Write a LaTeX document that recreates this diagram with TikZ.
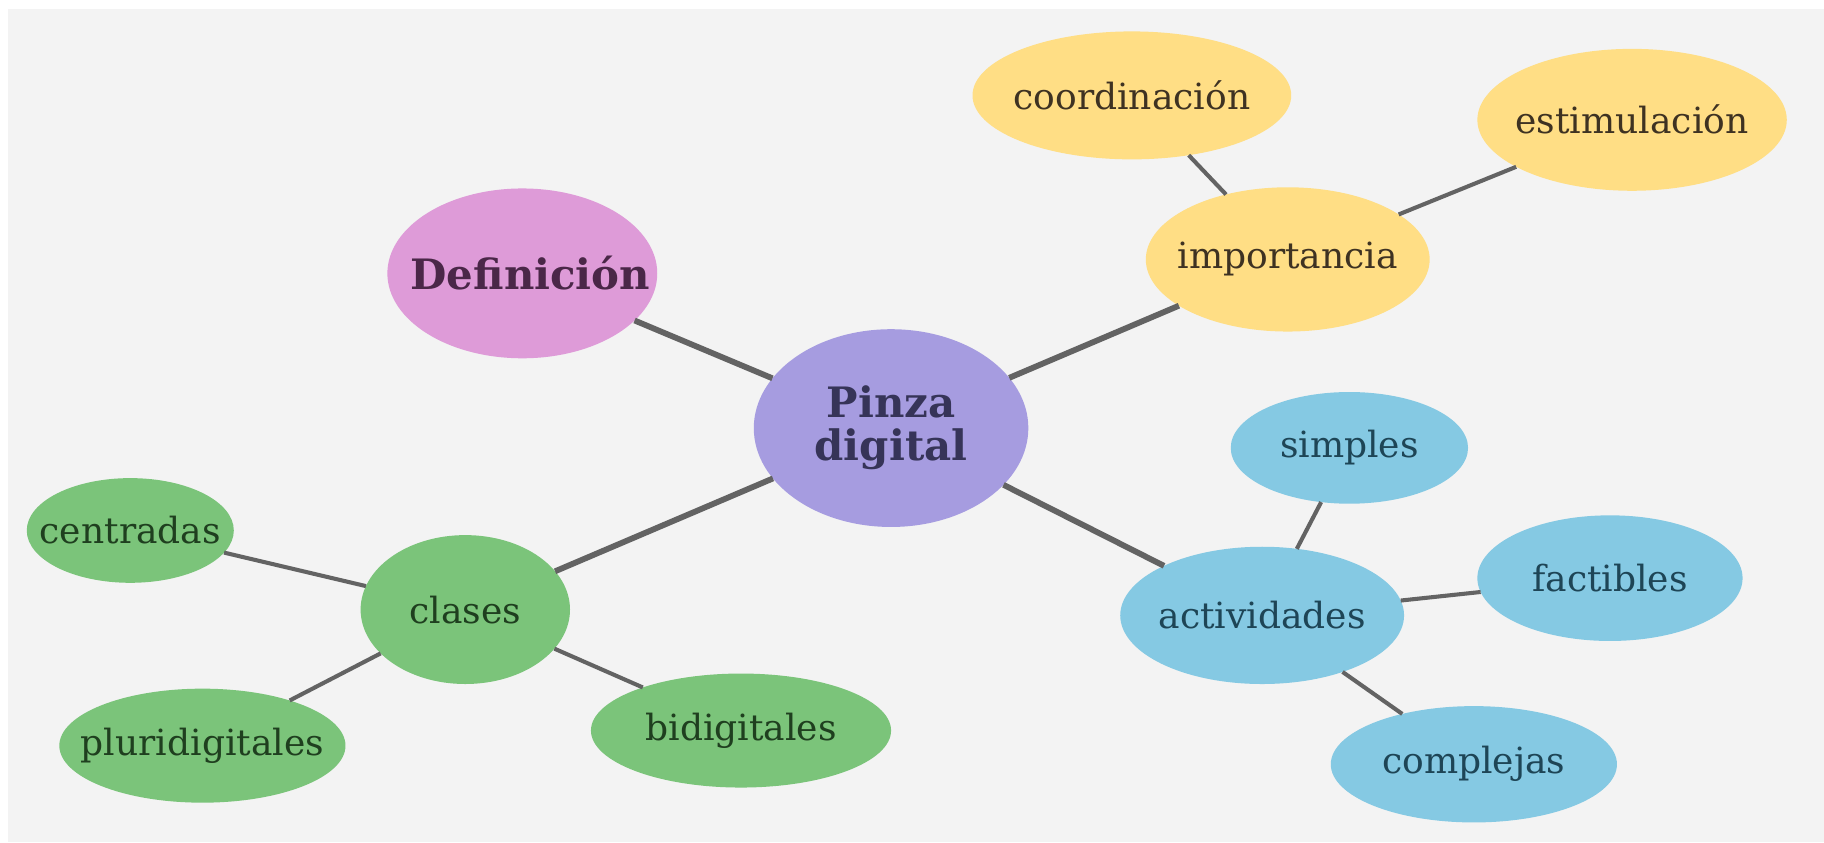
\documentclass[tikz,border=0pt]{standalone}
\usepackage{fontspec}
\setmainfont{DejaVu Serif}
\usetikzlibrary{shapes.geometric}
\definecolor{paper}{HTML}{F3F3F3}
\definecolor{linegray}{HTML}{636363}
\definecolor{hubfill}{HTML}{A69CE0}
\definecolor{hubtext}{HTML}{363458}
\definecolor{deffill}{HTML}{DE9BD8}
\definecolor{deftext}{HTML}{4A2748}
\definecolor{yelfill}{HTML}{FFDE85}
\definecolor{yeltext}{HTML}{3E3222}
\definecolor{bluefill}{HTML}{85C9E3}
\definecolor{bluetext}{HTML}{1E4556}
\definecolor{grnfill}{HTML}{7BC47A}
\definecolor{grntext}{HTML}{1F3F1F}
\tikzset{
  bubble/.style={ellipse, inner sep=0pt, outer sep=0pt},
  tag/.style={inner sep=0pt, align=center, font=\fontsize{31}{36}\selectfont},
  bigtag/.style={tag, font=\bfseries\fontsize{36}{37}\selectfont},
  hub/.style={bubble, fill=hubfill, label={[bigtag, text=hubtext]center:#1}},
  defn/.style={bubble, fill=deffill, label={[bigtag, text=deftext, xshift=7pt]center:#1}},
  yel/.style={bubble, fill=yelfill, label={[tag, text=yeltext]center:#1}},
  blue/.style={bubble, fill=bluefill, label={[tag, text=bluetext]center:#1}},
  grn/.style={bubble, fill=grnfill, label={[tag, text=grntext]center:#1}},
  spoke/.style={draw=linegray, line width=5pt},
  twig/.style={draw=linegray, line width=3.5pt},
}
\begin{document}
\begin{tikzpicture}[x=1pt, y=-1pt]
%% paper
\fill[white] (0,0) rectangle (1568,724);
\fill[paper] (7,8) rectangle (1568,724);
%% centre and first ring
\node[hub={Pinza\\digital}, minimum width=236pt, minimum height=170pt] (pinza) at (766,368) {};
\node[defn=Definición, minimum width=232pt, minimum height=146pt] (defin) at (449,235) {};
\node[yel=importancia, minimum width=244pt, minimum height=124pt] (impor) at (1107,223) {};
\node[blue=actividades, minimum width=244pt, minimum height=118pt] (activ) at (1085,529) {};
\node[grn=clases, minimum width=180pt, minimum height=128pt] (clases) at (400,524) {};
%% importancia
\node[yel=coordinación, minimum width=274pt, minimum height=110pt] (coord) at (973,82) {};
\node[yel=estimulación, minimum width=266pt, minimum height=122pt] (estim) at (1403,103) {};
%% actividades
\node[blue=simples, minimum width=204pt, minimum height=96pt] (simp) at (1160,385) {};
\node[blue=factibles, minimum width=228pt, minimum height=108pt] (fact) at (1384,497) {};
\node[blue=complejas, minimum width=246pt, minimum height=100pt] (compl) at (1267,657) {};
%% clases
\node[grn=centradas, minimum width=178pt, minimum height=90pt] (centr) at (112,456) {};
\node[grn=pluridigitales, minimum width=246pt, minimum height=98pt] (pluri) at (174,641) {};
\node[grn=bidigitales, minimum width=258pt, minimum height=98pt] (bidig) at (637,628) {};
%% links
\draw[spoke] (pinza) -- (defin);
\draw[spoke] (pinza) -- (impor);
\draw[spoke] (pinza) -- (activ);
\draw[spoke] (pinza) -- (clases);
\draw[twig] (impor) -- (coord);
\draw[twig] (impor) -- (estim);
\draw[twig] (activ) -- (simp);
\draw[twig] (activ) -- (fact);
\draw[twig] (activ) -- (compl);
\draw[twig] (clases) -- (centr);
\draw[twig] (clases) -- (pluri);
\draw[twig] (clases) -- (bidig);
\end{tikzpicture}
\end{document}
